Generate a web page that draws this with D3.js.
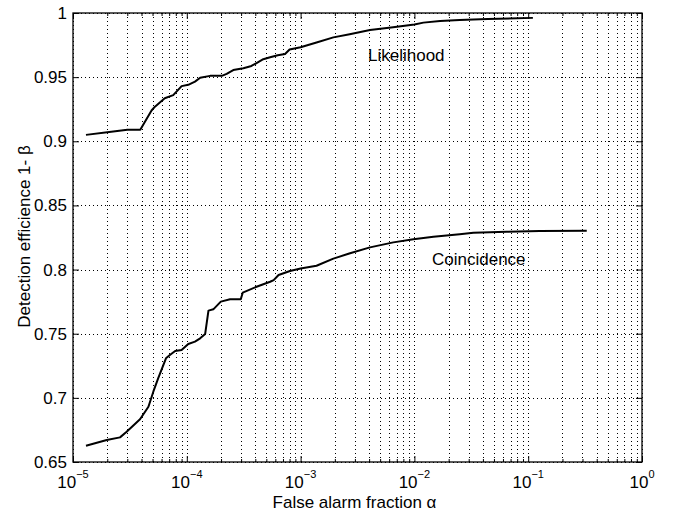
<!DOCTYPE html>
<html>
<head>
<meta charset="utf-8">
<script src="https://cdn.jsdelivr.net/npm/d3@7"></script>
<style>
  html, body { margin: 0; padding: 0; background: #fff; }
  svg text { font-family: "Liberation Sans", Arial, Helvetica, sans-serif; fill: #000; }
</style>
</head>
<body>
<svg id="chart" width="678" height="512"></svg>
<script>
// ---- data ----
const likelihoodX = [1.3e-5, 2e-5, 3e-5, 3.9e-5, 4.9e-5, 5.25e-5, 6.4e-5, 7.6e-5, 9.0e-5, 1.03e-4,
  1.18e-4, 1.31e-4, 1.6e-4, 2.03e-4, 2.24e-4, 2.56e-4, 3.14e-4, 3.7e-4, 4.1e-4, 4.7e-4,
  5.4e-4, 6.3e-4, 7.3e-4, 8.0e-4, 1e-3, 1.38e-3, 1.94e-3, 2.7e-3, 4.07e-3, 6.5e-3,
  1e-2, 1.2e-2, 1.68e-2, 2.5e-2, 4.4e-2, 1.1e-1];
const likelihoodY = [0.905, 0.907, 0.909, 0.909, 0.924, 0.927, 0.9335, 0.936, 0.943, 0.944,
  0.9465, 0.9495, 0.951, 0.951, 0.9525, 0.9555, 0.957, 0.9587, 0.961, 0.964,
  0.9655, 0.967, 0.968, 0.9715, 0.9733, 0.977, 0.981, 0.9835, 0.9867, 0.9888,
  0.991, 0.9925, 0.9937, 0.9945, 0.9953, 0.9962];

const coincidenceX = [1.3e-5, 1.98e-5, 2.59e-5, 2.96e-5, 3.88e-5, 4.6e-5, 5.08e-5, 5.6e-5, 6.56e-5, 7.1e-5,
  7.9e-5, 9.0e-5, 1.03e-4, 1.18e-4, 1.31e-4, 1.45e-4, 1.55e-4, 1.71e-4, 1.99e-4, 2.4e-4,
  2.98e-4, 3.1e-4, 4.1e-4, 5.4e-4, 5.8e-4, 6.4e-4, 8.07e-4, 1e-3, 1.38e-3, 1.94e-3,
  2.72e-3, 4.07e-3, 6.53e-3, 9.8e-3, 1.47e-2, 2.5e-2, 3.3e-2, 6.47e-2, 1.26e-1, 3.27e-1];
const coincidenceY = [0.6627, 0.6671, 0.6692, 0.6736, 0.6833, 0.6931, 0.7048, 0.7152, 0.7308, 0.7334,
  0.7365, 0.7373, 0.742, 0.7438, 0.7464, 0.7498, 0.768, 0.769, 0.775, 0.7768,
  0.7768, 0.782, 0.7866, 0.7905, 0.7918, 0.7958, 0.7989, 0.8008, 0.803, 0.8085,
  0.8127, 0.8173, 0.8212, 0.8236, 0.8256, 0.8275, 0.8287, 0.8295, 0.83, 0.8303];

const xMajorExponents = [-5, -4, -3, -2, -1, 0];
const yTicks = [0.65, 0.7, 0.75, 0.8, 0.85, 0.9, 0.95, 1];
const yTickLabels = ["0.65", "0.7", "0.75", "0.8", "0.85", "0.9", "0.95", "1"];
const seriesLabels = ["Likelihood", "Coincidence"];
const xTitle = "False alarm fraction \u03b1";
const yTitle = "Detection efficience 1- \u03b2";

// ---- layout ----
const L = 73, R = 642, T = 13, B = 462;
const svg = d3.select("#chart");
const x = d3.scaleLog().domain([1e-5, 1]).range([L, R]);
const y = d3.scaleLinear().domain([0.65, 1]).range([B, T]);

// minor positions
const minorVals = [];
for (let e = -5; e < 0; e++) for (let m = 2; m <= 9; m++) minorVals.push(m * Math.pow(10, e));
const majorVals = xMajorExponents.map(e => Math.pow(10, e));

// grid
const grid = svg.append("g").attr("stroke", "#000").attr("stroke-width", 1)
  .attr("stroke-dasharray", "1,3").attr("fill", "none");
majorVals.concat(minorVals).forEach(v => {
  const px = Math.round(x(v)) + 0.5;
  grid.append("line").attr("x1", px).attr("x2", px).attr("y1", T).attr("y2", B);
});
yTicks.forEach(v => {
  const py = Math.round(y(v)) + 0.5;
  grid.append("line").attr("x1", L).attr("x2", R).attr("y1", py).attr("y2", py);
});

// axes with inward ticks via d3 axis generators
const xAxisB = d3.axisBottom(x).tickValues(majorVals).tickSize(-6).tickFormat("");
const xAxisT = d3.axisTop(x).tickValues(majorVals).tickSize(-6).tickFormat("");
const xMinB = d3.axisBottom(x).tickValues(minorVals).tickSize(-3).tickFormat("");
const xMinT = d3.axisTop(x).tickValues(minorVals).tickSize(-3).tickFormat("");
const yAxisL = d3.axisLeft(y).tickValues(yTicks).tickSize(-6).tickFormat("");
const yAxisR = d3.axisRight(y).tickValues(yTicks).tickSize(-6).tickFormat("");

function styleAxis(g) {
  g.select(".domain").remove();
  g.selectAll("line").attr("stroke", "#000").attr("stroke-width", 1);
}
svg.append("g").attr("transform", `translate(0,${B})`).call(xAxisB).call(styleAxis);
svg.append("g").attr("transform", `translate(0,${T})`).call(xAxisT).call(styleAxis);
svg.append("g").attr("transform", `translate(0,${B})`).call(xMinB).call(styleAxis);
svg.append("g").attr("transform", `translate(0,${T})`).call(xMinT).call(styleAxis);
svg.append("g").attr("transform", `translate(${L},0)`).call(yAxisL).call(styleAxis);
svg.append("g").attr("transform", `translate(${R},0)`).call(yAxisR).call(styleAxis);

// box
svg.append("rect").attr("x", L).attr("y", T).attr("width", R - L).attr("height", B - T)
  .attr("fill", "none").attr("stroke", "#000").attr("stroke-width", 1.3);

// tick labels
xMajorExponents.forEach(e => {
  const t = svg.append("text").attr("x", x(Math.pow(10, e))).attr("y", 488)
    .attr("text-anchor", "middle").attr("font-size", 17);
  t.append("tspan").text("10");
  t.append("tspan").attr("font-size", 11).attr("dy", -10).text(e === 0 ? "0" : "\u2212" + Math.abs(e));
});
yTicks.forEach((v, i) => {
  svg.append("text").attr("x", 67).attr("y", y(v) + 6)
    .attr("text-anchor", "end").attr("font-size", 17).text(yTickLabels[i]);
});

// titles
svg.append("text").attr("x", (L + R) / 2 - 3).attr("y", 507.5).attr("text-anchor", "middle")
  .attr("font-size", 17).text(xTitle);
svg.append("text").attr("transform", `translate(30,${(T + B) / 2 - 1}) rotate(-90)`)
  .attr("text-anchor", "middle").attr("font-size", 17).text(yTitle);

// curves
const line = d3.line().x(d => x(d[0])).y(d => y(d[1]));
const likData = likelihoodX.map((v, i) => [v, likelihoodY[i]]);
const coinData = coincidenceX.map((v, i) => [v, coincidenceY[i]]);
[likData, coinData].forEach(d => {
  svg.append("path").datum(d).attr("d", line).attr("fill", "none")
    .attr("stroke", "#000").attr("stroke-width", 2).attr("stroke-linejoin", "round");
});

// series labels
svg.append("text").attr("x", 368).attr("y", 60.5).attr("font-size", 17).text(seriesLabels[0]);
svg.append("text").attr("x", 432).attr("y", 265).attr("font-size", 17).text(seriesLabels[1]);
</script>
</body>
</html>
